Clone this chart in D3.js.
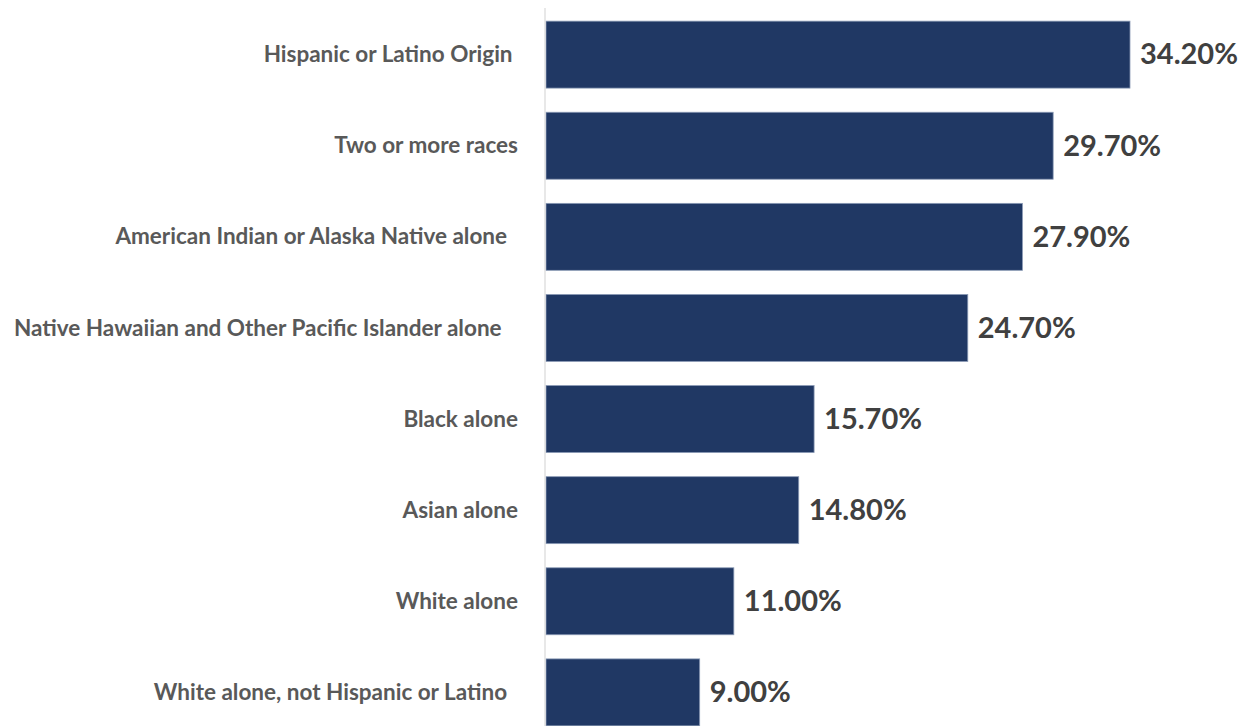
<!DOCTYPE html>
<meta charset="utf-8">
<title>Rates by race and origin</title>
<style>
  body { margin: 0; background: #fff; }
  .cat { font-family: Lato, "Open Sans", sans-serif; font-weight: bold; fill: #595959; white-space: pre; }
  .val { font-family: Lato, "Open Sans", sans-serif; font-weight: bold; fill: #404040; }
</style>
<body>
<script src="https://cdn.jsdelivr.net/npm/d3@7"></script>
<script>
  // categories as printed (trailing spaces kept as in the source labels)
  var categories = [
    "Hispanic or Latino Origin ",
    "Two or more races",
    "American Indian or Alaska Native alone  ",
    "Native Hawaiian and Other Pacific Islander alone   ",
    "Black alone",
    "Asian alone",
    "White alone",
    "White alone, not Hispanic or Latino  "
  ];
  var values = [34.2, 29.7, 27.9, 24.7, 15.7, 14.8, 11.0, 9.0];

  var width = 1246, height = 726;

  var svg = d3.select("body").append("svg")
      .attr("width", width)
      .attr("height", height);

  // scales
  var x = d3.scaleLinear()
      .domain([0, d3.max(values)])
      .range([546, 1130]);

  var y = d3.scaleBand()
      .domain(categories)
      .range([-3, 750])
      .padding(0.265);

  var data = categories.map(function(c, i) { return {name: c, value: values[i]}; });

  // bars
  svg.append("g").selectAll("rect")
      .data(data)
      .enter().append("rect")
      .attr("x", x(0))
      .attr("y", function(d) { return y(d.name); })
      .attr("width", function(d) { return x(d.value) - x(0); })
      .attr("height", y.bandwidth())
      .style("fill", "#203864")
      .style("stroke", "#8a9ab5")
      .style("stroke-width", 0.8);

  // vertical axis line
  svg.append("line")
      .attr("x1", x(0) - 1).attr("x2", x(0) - 1)
      .attr("y1", 8).attr("y2", height)
      .style("stroke", "#d9d9d9")
      .style("stroke-width", 1.2);

  // category labels
  svg.append("g").selectAll("text")
      .data(data)
      .enter().append("text")
      .attr("class", "cat")
      .attr("x", 518)
      .attr("y", function(d) { return y(d.name) + y.bandwidth() / 2; })
      .attr("dy", "0.34em")
      .attr("text-anchor", "end")
      .style("font-size", "22.5px")
      .text(function(d) { return d.name; });

  // value labels
  var fmt = d3.format(".2f");
  svg.append("g").selectAll("text")
      .data(data)
      .enter().append("text")
      .attr("class", "val")
      .attr("x", function(d) { return x(d.value) + 10; })
      .attr("y", function(d) { return y(d.name) + y.bandwidth() / 2; })
      .attr("dy", "0.34em")
      .style("font-size", "29px")
      .text(function(d) { return fmt(d.value) + "%"; });
</script>
</body>
